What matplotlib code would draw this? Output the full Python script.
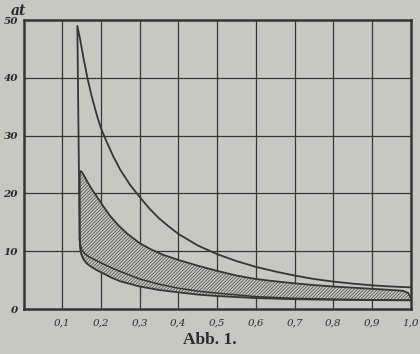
import numpy as np
import matplotlib.pyplot as plt
import matplotlib as mpl

mpl.rcParams['hatch.linewidth'] = 0.5
mpl.rcParams['hatch.color'] = '#404040'

# outer diagram: expansion curve (top)
top_x = [0.139, 0.145, 0.155, 0.165, 0.175, 0.19, 0.2, 0.215, 0.232, 0.25, 0.275, 0.3,
         0.325, 0.35, 0.375, 0.4, 0.45, 0.5, 0.55, 0.6, 0.65, 0.7, 0.75, 0.8, 0.85, 0.9,
         0.95, 1.0]
top_y = [49, 47.1, 43.4, 40.0, 37.1, 33.4, 31.3, 28.9, 26.4, 24.1, 21.5, 19.4,
         17.4, 15.7, 14.3, 13.0, 11.0, 9.5, 8.3, 7.3, 6.5, 5.8, 5.2, 4.75, 4.4, 4.1,
         3.9, 3.75]

# middle line (bottom of outer diagram)
mid_x = [0.145, 0.147, 0.151, 0.158, 0.17, 0.185, 0.2, 0.225, 0.25, 0.3, 0.35, 0.4, 0.45,
         0.5, 0.6, 0.7, 0.8, 0.9, 1.0]
mid_y = [12.0, 11.0, 10.2, 9.6, 9.0, 8.5, 8.0, 7.2, 6.5, 5.2, 4.3, 3.6, 3.1,
         2.75, 2.15, 1.85, 1.7, 1.6, 1.55]

# hatched band, upper boundary
up_x = [0.145, 0.145, 0.147, 0.151, 0.158, 0.166, 0.175, 0.185, 0.198, 0.21, 0.224, 0.245,
        0.267, 0.3, 0.33, 0.36, 0.4, 0.45, 0.5, 0.55, 0.6, 0.65, 0.7, 0.75, 0.8, 0.85,
        0.9, 0.95, 0.98, 0.993, 1.0]
up_y = [12.0, 23.2, 23.9, 23.7, 22.9, 21.9, 20.9, 19.9, 18.6, 17.4, 16.1, 14.5,
        13.1, 11.4, 10.3, 9.4, 8.5, 7.5, 6.6, 5.8, 5.2, 4.8, 4.45, 4.15, 3.9, 3.7,
        3.5, 3.3, 3.15, 2.8, 2.0]

# hatched band, lower boundary
lo_x = [0.145, 0.146, 0.149, 0.155, 0.163, 0.175, 0.19, 0.205, 0.225, 0.25, 0.3, 0.35,
        0.4, 0.45, 0.5, 0.6, 0.7, 0.8, 0.9, 1.0]
lo_y = [12.0, 10.6, 9.5, 8.6, 7.9, 7.3, 6.7, 6.2, 5.5, 4.8, 3.9, 3.3,
        2.9, 2.5, 2.25, 1.9, 1.7, 1.6, 1.55, 1.5]

x_ticks = [0.1, 0.2, 0.3, 0.4, 0.5, 0.6, 0.7, 0.8, 0.9, 1.0]
x_labels = ['0,1', '0,2', '0,3', '0,4', '0,5', '0,6', '0,7', '0,8', '0,9', '1,0']
y_ticks = [0, 10, 20, 30, 40, 50]
y_labels = ['0', '10', '20', '30', '40', '50']

paper = '#c8c8c3'
ink = '#353535'

fig = plt.figure(figsize=(4.2, 3.54), dpi=100, facecolor=paper)
ax = fig.add_axes([0.056, 0.127, 0.922, 0.816], facecolor=paper)

ax.set_xlim(0, 1.0)
ax.set_ylim(0, 50)

for xv in x_ticks[:-1]:
    ax.axvline(xv, color=ink, lw=0.9, zorder=1)
for yv in y_ticks[1:-1]:
    ax.axhline(yv, color=ink, lw=0.9, zorder=1)

# hatched band
band_x = np.array(up_x + lo_x[::-1])
band_y = np.array(up_y + lo_y[::-1])
ax.fill(band_x, band_y, facecolor=paper, edgecolor='#404040', hatch='//////////', lw=0, zorder=2)
ax.plot(up_x, up_y, color=ink, lw=1.3, zorder=3)
ax.plot(lo_x, lo_y, color=ink, lw=1.3, zorder=3)
ax.plot([up_x[-1], lo_x[-1]], [up_y[-1], lo_y[-1]], color=ink, lw=1.3, zorder=3)

# outer diagram
ax.plot([mid_x[0]] + top_x, [mid_y[0]] + top_y, color=ink, lw=1.3, zorder=3)
ax.plot(mid_x, mid_y, color=ink, lw=1.1, zorder=3)

for s in ax.spines.values():
    s.set_color(ink)
    s.set_linewidth(1.8)
    s.set_zorder(4)

ax.set_xticks(x_ticks)
ax.set_xticklabels(x_labels, fontfamily='DejaVu Serif', fontstyle='italic', fontsize=7.5,
                   color='#2a2a2a')
ax.set_yticks(y_ticks)
ax.set_yticklabels(y_labels, fontfamily='DejaVu Serif', fontstyle='italic', fontsize=7.5,
                   fontweight='bold', color='#2a2a2a')
ax.tick_params(length=0, pad=4)
ax.tick_params(axis='x', pad=7)

fig.text(0.025, 0.968, 'at', fontfamily='DejaVu Serif', fontstyle='italic', fontweight='bold',
         fontsize=10, color='#2a2a2a', ha='left', va='center')
fig.text(0.5, 0.04, 'Abb. 1.', fontfamily='Liberation Serif', fontweight='bold',
         fontsize=12.5, color='#2a2a2a', ha='center', va='center')

fig.savefig('out.png', dpi=100, facecolor=paper)
